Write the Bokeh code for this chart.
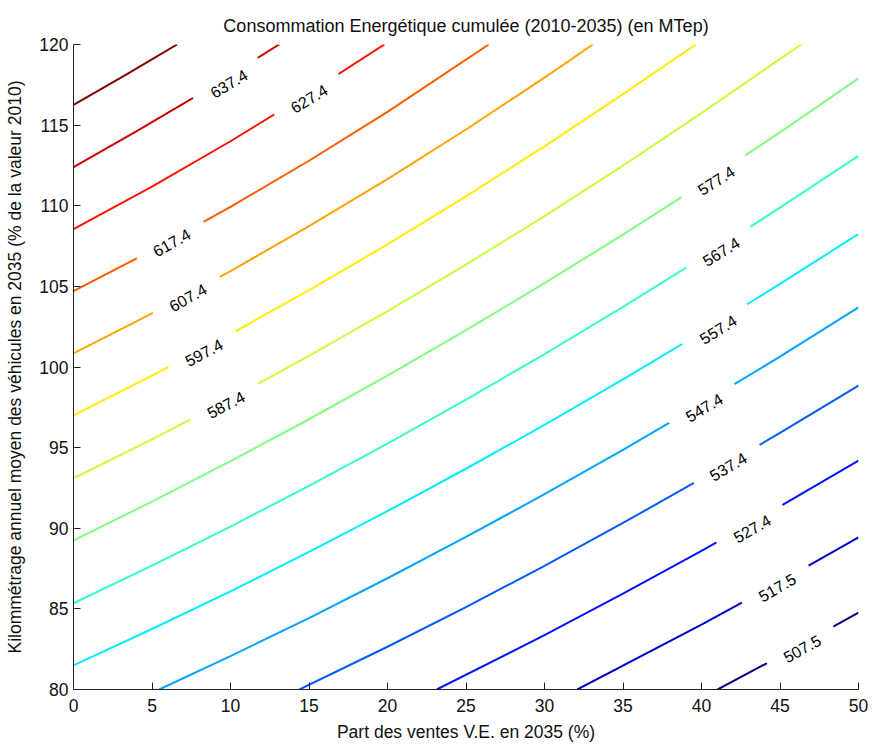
import numpy as np
from bokeh.plotting import figure
from bokeh.models import Range1d, ColumnDataSource
from bokeh.embed import file_html
from bokeh.resources import INLINE
from bokeh.core.properties import value

# ---------------- data ----------------
levels = [507.5, 517.5, 527.4, 537.4, 547.4, 557.4, 567.4, 577.4,
          587.4, 597.4, 607.4, 617.4, 627.4, 637.4, 647.4]

# one polyline per contour level (x = part des ventes, y = kilometrage)
x_5075 = [41.03, 45.0, 50.0]
y_5075 = [80.0, 82.07, 84.77]
x_5175 = [32.09, 40.0, 45.0, 50.0]
y_5175 = [80.0, 84.02, 86.68, 89.43]
x_5274 = [23.14, 30.0, 35.0, 40.0, 45.0, 50.0]
y_5274 = [80.0, 83.37, 85.94, 88.59, 91.35, 94.2]
x_5374 = [14.39, 20.0, 25.0, 30.0, 35.0, 40.0, 45.0, 50.0]
y_5374 = [80.0, 82.65, 85.11, 87.67, 90.33, 93.07, 95.91, 98.85]
x_5474 = [5.46, 10.0, 15.0, 20.0, 25.0, 30.0, 35.0, 40.0, 45.0, 50.0]
y_5474 = [80.0, 82.07, 84.43, 86.9, 89.46, 92.11, 94.86, 97.71, 100.64, 103.7]
x_5574 = [0.0, 5.0, 10.0, 15.0, 20.0, 25.0, 30.0, 35.0, 40.0, 45.0, 50.0]
y_5574 = [81.5, 83.75, 86.09, 88.53, 91.06, 93.69, 96.41, 99.23, 102.14, 105.15, 108.25]
x_5674 = [0.0, 5.0, 10.0, 15.0, 20.0, 25.0, 30.0, 35.0, 40.0, 45.0, 50.0]
y_5674 = [85.35, 87.68, 90.1, 92.63, 95.25, 97.98, 100.8, 103.73, 106.75, 109.88, 113.1]
x_5774 = [0.0, 5.0, 10.0, 15.0, 20.0, 25.0, 30.0, 35.0, 40.0, 45.0, 50.0]
y_5774 = [89.25, 91.65, 94.16, 96.76, 99.47, 102.28, 105.2, 108.21, 111.33, 114.55, 117.9]
x_5874 = [0.0, 5.0, 10.0, 15.0, 20.0, 25.0, 30.0, 35.0, 40.0, 45.0, 46.36]
y_5874 = [93.1, 95.51, 98.04, 100.69, 103.46, 106.35, 109.36, 112.49, 115.74, 119.11, 120.0]
x_5974 = [0.0, 5.0, 10.0, 15.0, 20.0, 25.0, 30.0, 35.0, 39.64]
y_5974 = [97.0, 99.46, 102.04, 104.76, 107.6, 110.58, 113.68, 116.92, 120.0]
x_6074 = [0.0, 5.0, 10.0, 15.0, 20.0, 25.0, 30.0, 33.08]
y_6074 = [100.85, 103.33, 105.95, 108.73, 111.65, 114.73, 117.95, 120.0]
x_6174 = [0.0, 5.0, 10.0, 15.0, 20.0, 26.45]
y_6174 = [104.7, 107.23, 109.93, 112.79, 115.82, 120.0]
x_6274 = [0.0, 5.0, 10.0, 15.0, 19.8]
y_6274 = [108.55, 111.19, 114.0, 116.99, 120.0]
x_6374 = [0.0, 4.0, 8.0, 13.1]
y_6374 = [112.4, 114.61, 116.91, 120.0]
x_6474 = [0.0, 3.3, 6.6]
y_6474 = [116.25, 118.1, 120.0]

label_text = ["637.4", "627.4", "617.4", "607.4", "597.4", "587.4",
              "577.4", "567.4", "557.4", "547.4", "537.4", "527.4",
              "517.5", "507.5"]
label_x = [9.89, 15.0, 6.25, 7.28, 8.3, 9.7,
           40.93, 41.25, 41.06, 40.17, 41.7, 43.23, 44.82, 46.41]
label_y = [117.58, 116.65, 107.72, 104.31, 100.9, 97.67,
           111.57, 107.16, 102.33, 97.49, 93.83, 89.98, 86.33, 82.54]

x_ticks = [0, 5, 10, 15, 20, 25, 30, 35, 40, 45, 50]
y_ticks = [80, 85, 90, 95, 100, 105, 110, 115, 120]

# ---------------- styles ----------------
jet_colors = ["#000080", "#0000C8", "#0012FF", "#005BFF", "#00A4FF",
              "#00EDFF", "#37FFC8", "#80FF80", "#C8FF37", "#FFED00",
              "#FFA400", "#FF5B00", "#FF1200", "#C80000", "#800000"]
label_angle = [31, 31, 29, 29, 28, 28, 33, 32, 32, 31, 31, 30, 30, 29]

FONT = "Liberation Sans"
FS = "17.5px"

line_xs = [x_5075, x_5175, x_5274, x_5374, x_5474, x_5574, x_5674, x_5774,
           x_5874, x_5974, x_6074, x_6174, x_6274, x_6374, x_6474]
line_ys = [y_5075, y_5175, y_5274, y_5374, y_5474, y_5574, y_5674, y_5774,
           y_5874, y_5974, y_6074, y_6174, y_6274, y_6374, y_6474]

p = figure(width=868, height=747, output_backend="svg", toolbar_location=None,
           x_range=Range1d(0, 50), y_range=Range1d(80, 120),
           min_border_left=73, min_border_right=10, min_border_top=44,
           min_border_bottom=58)

p.title.text = "Consommation Energétique cumulée (2010-2035) (en MTep)"
p.title.align = "center"
p.title.text_font = FONT
p.title.text_font_size = "18px"
p.title.text_font_style = "normal"
p.title.text_color = "#111111"
p.title.standoff = 18

p.grid.visible = False
p.outline_line_color = None
p.background_fill_color = "white"
p.border_fill_color = "white"

lines_src = ColumnDataSource(dict(xs=line_xs, ys=line_ys, color=jet_colors,
                                  level=levels))
p.multi_line("xs", "ys", source=lines_src, line_color="color", line_width=2,
             line_join="round")

lab_src = ColumnDataSource(dict(x=label_x, y=label_y, text=label_text,
                                angle=label_angle))
p.text("x", "y", text="text", angle="angle", angle_units="deg", source=lab_src,
       text_font=value(FONT), text_font_size="16px", text_color="black",
       text_align="center", text_baseline="middle",
       background_fill_color="white", padding=(18, 3))

for ax in (p.xaxis, p.yaxis):
    ax.axis_line_color = "#222222"
    ax.major_tick_line_color = "#222222"
    ax.major_tick_in = 7
    ax.major_tick_out = 0
    ax.minor_tick_line_color = None
    ax.major_label_text_font = FONT
    ax.major_label_text_font_size = FS
    ax.major_label_text_color = "#111111"
    ax.axis_label_text_font = FONT
    ax.axis_label_text_font_size = FS
    ax.axis_label_text_font_style = "normal"
    ax.axis_label_text_color = "#111111"

p.xaxis.ticker = x_ticks
p.yaxis.ticker = y_ticks
p.xaxis.axis_label = "Part des ventes V.E. en 2035 (%)"
p.yaxis.axis_label = "Kilommétrage annuel moyen des véhicules en 2035 (% de la valeur 2010)"
p.xaxis.major_label_standoff = 9
p.yaxis.major_label_standoff = 5
p.xaxis.axis_label_standoff = 7
p.yaxis.axis_label_standoff = 11

open("out.html", "w").write(file_html(p, INLINE))
